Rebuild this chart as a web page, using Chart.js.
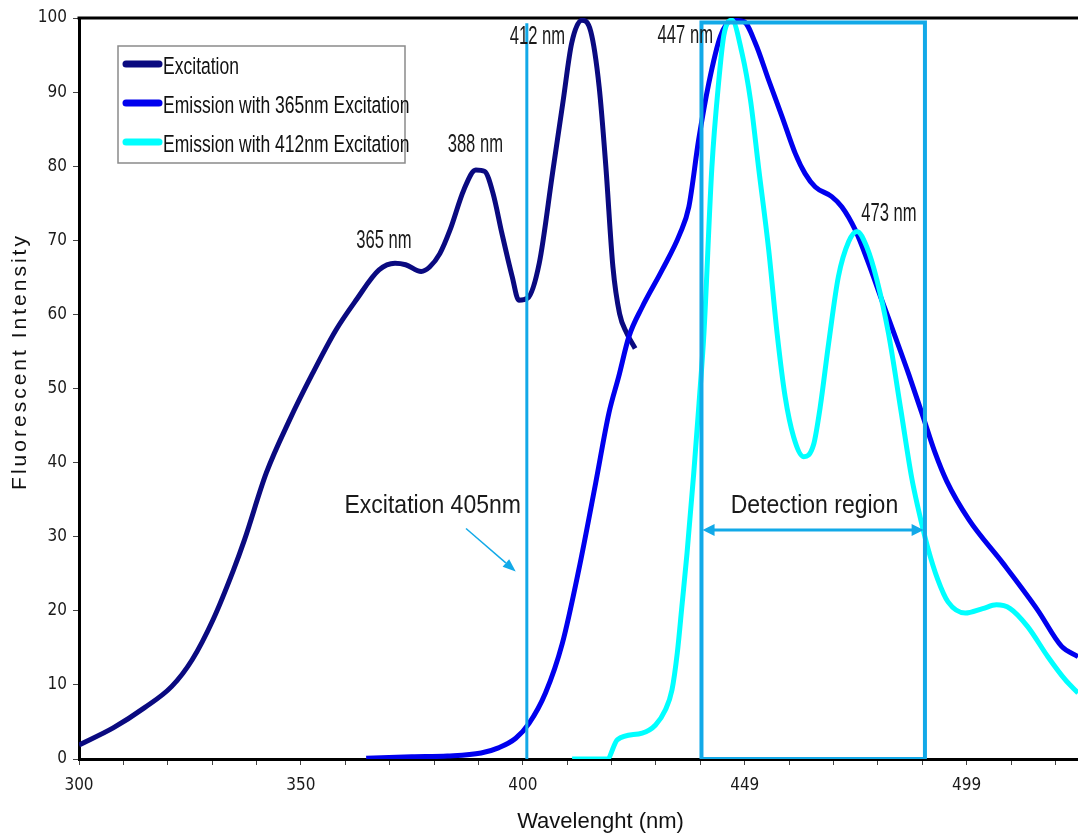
<!DOCTYPE html>
<html>
<head>
<meta charset="utf-8">
<title>Fluorescence spectra</title>
<script src="https://cdn.jsdelivr.net/npm/chart.js@4.4.0/dist/chart.umd.min.js"></script>
<style>
  html, body { margin: 0; padding: 0; background: #fff; overflow: hidden; }
  #wrap { width: 1132px; height: 837px; }
</style>
</head>
<body>
<div id="wrap"><canvas id="spectra" width="1132" height="837"></canvas></div>
<script>
// values (wavelength / intensity)
const excitationX = [300, 307.7, 314.7, 320.9, 325.5, 330.2, 334.8, 337.3, 342.2, 347.4, 352.6, 357.9, 362.4, 367.6, 371.2, 373.6, 377.1, 379, 381.3, 383.6, 386.7, 389.4, 391.4, 393.3, 395.3, 397.6, 399.1, 401.1, 403.7, 406.7, 409.1, 411, 413.3, 415.3, 417.2, 418.7, 420.3, 421.8, 423.4, 425.3];
const excitationY = [1.9, 4.2, 6.9, 9.8, 13.4, 18.8, 25.5, 29.6, 38.6, 45.7, 52, 57.9, 61.9, 66, 66.9, 66.7, 65.8, 66.4, 68.2, 71.4, 76.8, 79.5, 79.3, 76.3, 70.9, 65.1, 61.9, 62.2, 66.9, 79.1, 88.9, 96.6, 99.7, 98.2, 90.7, 80, 66.4, 60.1, 57.5, 55.4];

const em365X = [364.7, 375, 383, 390.6, 394.5, 398.4, 401.4, 405.1, 408.9, 412.6, 416.4, 419.4, 421.6, 423.9, 426.9, 431.4, 435.4, 437.4, 439.6, 441.9, 444.5, 447.1, 449.8, 452.4, 455.4, 458.4, 461.4, 463.6, 465.9, 469.6, 471.9, 474.9, 477.9, 480.9, 483.9, 486.9, 489.9, 492.9, 495.5, 500.5, 508.2, 516, 521.4, 525.1];
const em365Y = [0.1, 0.3, 0.4, 0.8, 1.5, 2.8, 4.8, 8.9, 15.6, 25.5, 37.2, 46.7, 51.6, 57, 61, 66, 70.9, 74.5, 83.5, 91.2, 97.5, 99.7, 99.5, 96.6, 91.6, 86.7, 81.7, 79, 77.2, 75.9, 74.5, 71.4, 66.9, 61.9, 57, 52, 46.7, 41.3, 37.5, 32.3, 26.4, 20.1, 15.2, 13.8];

const em412X = [411.1, 419, 421.3, 426.9, 429.9, 432.1, 433.6, 434.8, 435.9, 437, 438.5, 439.7, 440.8, 442.6, 444.1, 445.3, 447.1, 449.4, 451.3, 453.1, 455.4, 457.3, 459.1, 461, 463.3, 465.5, 467, 468.9, 471.1, 473.4, 475.3, 477.5, 479.8, 482.4, 485.2, 487.6, 489, 491.2, 493.5, 495.8, 499.7, 503.6, 506.7, 509.8, 513.7, 518.3, 522.2, 525.1];
const em412Y = [0, 0, 2.6, 3.5, 4.6, 6.6, 9.3, 14.3, 21, 27.8, 38.5, 48, 57.4, 79.9, 91.2, 97.7, 99.7, 95.2, 88.9, 79.9, 68.7, 57.4, 48.9, 43.5, 40.8, 42.4, 47.5, 56.1, 65.1, 69.8, 71.2, 69.1, 64.6, 57.4, 47, 38, 34, 28.6, 24.2, 21.2, 19.7, 20.3, 20.8, 20.3, 17.9, 13.8, 10.7, 8.9];

const seriesLabels = ['Excitation', 'Emission with 365nm Excitation', 'Emission with 412nm Excitation'];

// x tick labels as printed on the original axis
const xTickValues = [300, 350, 400, 450, 500];
const xTickLabels = ['300', '350', '400', '449', '499'];

// 405 nm laser line and detection window
const laserX = [400.9, 400.9];
const laserY = [0, 99.3];
const boxX = [440.25, 490.6, 490.6, 440.25, 440.25];
const boxY = [0, 0, 99.4, 99.4, 0];
const detectArrowX = [440.5, 490.3];
const detectArrowY = 30.9;
const laserArrowX = [387.2, 398.4];
const laserArrowY = [31.1, 25.3];

const peakLabels = ['412 nm', '447 nm', '388 nm', '365 nm', '473 nm'];
const peakLabelX = [403.3, 436.6, 389.3, 368.7, 482.5];
const peakLabelY = [97.4, 97.5, 82.9, 69.9, 73.5];

const noteLabels = ['Excitation 405nm', 'Detection region'];
const noteLabelX = [379.7, 465.7];
const noteLabelY = [34.1, 34.1];

const CONDENSED = '"DejaVu Sans Condensed", "Liberation Sans", sans-serif';
const SANS = '"Liberation Sans", Arial, sans-serif';
const MARK_BLUE = '#12a9e8';

const toPoints = (xs, ys) => xs.map((x, i) => ({ x: x, y: ys[i] }));

// text squeezed / stretched to mimic the narrow tall lettering of the original
function drawText(ctx, text, x, y, font, sx, sy, align) {
    ctx.save();
    ctx.translate(x, y);
    ctx.scale(sx, sy);
    ctx.font = font;
    ctx.textAlign = align || 'center';
    ctx.textBaseline = 'middle';
    ctx.fillText(text, 0, 0);
    ctx.restore();
}

function arrowHead(ctx, x0, y0, x1, y1, len, half) {
    const ang = Math.atan2(y1 - y0, x1 - x0);
    const c = Math.cos(ang), s = Math.sin(ang);
    ctx.beginPath();
    ctx.moveTo(x1, y1);
    ctx.lineTo(x1 - len * c + half * s, y1 - len * s - half * c);
    ctx.lineTo(x1 - len * c - half * s, y1 - len * s + half * c);
    ctx.closePath();
    ctx.fill();
}

// frame, annotations, y title and in-plot legend
const spectraDecor = {
    id: 'spectraDecor',
    beforeDatasetsDraw(chart) {
        const { ctx, chartArea: a } = chart;
        ctx.save();
        ctx.strokeStyle = '#000';
        ctx.lineWidth = 3;
        ctx.beginPath();
        ctx.moveTo(a.left - 1.5, a.top);
        ctx.lineTo(a.right, a.top);
        ctx.stroke();
        ctx.restore();
    },
    afterDatasetsDraw(chart) {
        const { ctx, chartArea: a, scales: { x, y } } = chart;
        ctx.save();
        ctx.fillStyle = '#1a1a1a';
        peakLabels.forEach((t, i) => {
            drawText(ctx, t, x.getPixelForValue(peakLabelX[i]), y.getPixelForValue(peakLabelY[i]), '20px ' + SANS, 0.83, 1.25);
        });
        noteLabels.forEach((t, i) => {
            drawText(ctx, t, x.getPixelForValue(noteLabelX[i]), y.getPixelForValue(noteLabelY[i]), '23px ' + SANS, 1, 1.12);
        });

        // double arrow of the detection region
        ctx.strokeStyle = MARK_BLUE;
        ctx.fillStyle = MARK_BLUE;
        const ay = y.getPixelForValue(detectArrowY);
        const ax0 = x.getPixelForValue(detectArrowX[0]);
        const ax1 = x.getPixelForValue(detectArrowX[1]);
        ctx.lineWidth = 3;
        ctx.beginPath();
        ctx.moveTo(ax0 + 8, ay);
        ctx.lineTo(ax1 - 8, ay);
        ctx.stroke();
        arrowHead(ctx, ax1, ay, ax0, ay, 12, 6);
        arrowHead(ctx, ax0, ay, ax1, ay, 12, 6);

        // small pointer to the 405 nm line
        const px0 = x.getPixelForValue(laserArrowX[0]), py0 = y.getPixelForValue(laserArrowY[0]);
        const px1 = x.getPixelForValue(laserArrowX[1]), py1 = y.getPixelForValue(laserArrowY[1]);
        ctx.lineWidth = 1.5;
        ctx.beginPath();
        ctx.moveTo(px0, py0);
        ctx.lineTo(px0 + (px1 - px0) * 0.8, py0 + (py1 - py0) * 0.8);
        ctx.stroke();
        arrowHead(ctx, px0, py0, px1, py1, 13, 5);

        // y axis title
        ctx.fillStyle = '#111';
        ctx.translate(20, (a.top + a.bottom) / 2 - 27);
        ctx.rotate(-Math.PI / 2);
        ctx.font = '21px ' + SANS;
        ctx.letterSpacing = '3px';
        ctx.textAlign = 'center';
        ctx.textBaseline = 'middle';
        ctx.fillText('Fluorescent Intensity', 0, 0);
        ctx.restore();

        // legend box inside the plot
        const lx = a.left + 39, ly = a.top + 28;
        ctx.save();
        ctx.fillStyle = '#fff';
        ctx.strokeStyle = '#8a8a8a';
        ctx.lineWidth = 1.5;
        ctx.fillRect(lx, ly, 287, 117);
        ctx.strokeRect(lx, ly, 287, 117);
        chart.data.datasets.filter(d => !d.isMark).forEach((d, i) => {
            const ry = ly + 18 + i * 39;
            ctx.strokeStyle = d.borderColor;
            ctx.lineWidth = 7;
            ctx.lineCap = 'round';
            ctx.beginPath();
            ctx.moveTo(lx + 8, ry);
            ctx.lineTo(lx + 41, ry);
            ctx.stroke();
            ctx.fillStyle = '#111';
            drawText(ctx, d.label, lx + 45, ry + 3, '21px ' + SANS, 0.835, 1.18, 'left');
        });
        ctx.restore();
    }
};

const lineStyle = { pointRadius: 0, borderWidth: 5, fill: false, cubicInterpolationMode: 'monotone' };

new Chart(document.getElementById('spectra'), {
    type: 'line',
    data: {
        datasets: [
            { ...lineStyle, label: seriesLabels[0], data: toPoints(excitationX, excitationY), borderColor: '#0a0a80', order: 3 },
            { ...lineStyle, label: seriesLabels[1], data: toPoints(em365X, em365Y), borderColor: '#0000ee', order: 2 },
            { ...lineStyle, label: seriesLabels[2], data: toPoints(em412X, em412Y), borderColor: '#00ffff', order: 1 },
            { label: 'laser', isMark: true, data: toPoints(laserX, laserY), borderColor: MARK_BLUE, borderWidth: 3, pointRadius: 0, order: 0 },
            { label: 'box', isMark: true, data: toPoints(boxX, boxY), borderColor: MARK_BLUE, borderWidth: 4, pointRadius: 0, order: 0 }
        ]
    },
    options: {
        responsive: false,
        animation: false,
        devicePixelRatio: 1,
        layout: { padding: { top: 18, left: 0, right: 0, bottom: 0 } },
        plugins: {
            legend: { display: false },
            tooltip: { enabled: false }
        },
        scales: {
            x: {
                type: 'linear',
                min: 300,
                max: 535,
                afterFit: s => { s.height = 78; },
                border: { display: true, color: '#000', width: 3 },
                grid: { drawOnChartArea: false, drawTicks: true, tickLength: 6, color: '#444', lineWidth: 1 },
                ticks: {
                    stepSize: 10,
                    autoSkip: false,
                    maxRotation: 0,
                    padding: 10,
                    color: '#1a1a1a',
                    font: { family: CONDENSED, size: 17 },
                    callback: v => {
                        const i = xTickValues.indexOf(Math.round(v));
                        return i >= 0 ? xTickLabels[i] : '';
                    }
                },
                title: {
                    display: true,
                    text: 'Wavelenght (nm)',
                    color: '#111',
                    font: { family: SANS, size: 22 },
                    padding: { top: 0, bottom: 2 }
                }
            },
            y: {
                min: 0,
                max: 100,
                afterFit: s => { s.width = 79; },
                border: { display: true, color: '#000', width: 3 },
                grid: { drawOnChartArea: false, drawTicks: true, tickLength: 6, color: '#444', lineWidth: 1 },
                ticks: {
                    stepSize: 10,
                    padding: 6,
                    color: '#1a1a1a',
                    font: { family: CONDENSED, size: 17 }
                }
            }
        }
    },
    plugins: [spectraDecor]
});
</script>
</body>
</html>
